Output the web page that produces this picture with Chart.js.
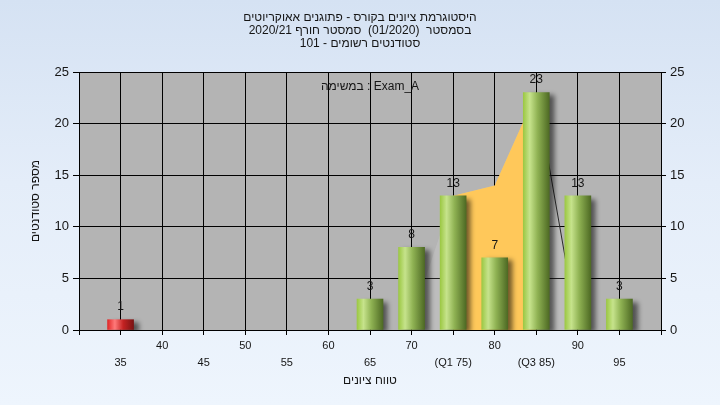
<!DOCTYPE html>
<html lang="he">
<head>
<meta charset="utf-8">
<script src="https://cdn.jsdelivr.net/npm/chart.js@4"></script>
<style>
  html, body { margin: 0; padding: 0; overflow: hidden; }
  body { width: 720px; height: 405px; background: linear-gradient(180deg, #d5e2f3 0%, #e4edf9 45%, #eef5fd 100%); }
  canvas { display: block; }
</style>
</head>
<body>
<canvas id="chart-hist" width="720" height="405"></canvas>
<script>
// ── data ──
const titleLines = [
  'היסטוגרמת ציונים בקורס - פתוגנים אאוקריוטים',
  'בסמסטר  (01/2020)  סמסטר חורף 2020/21',
  'סטודנטים רשומים - 101'
];
const taskLabel  = 'במשימה : Exam_A';
const xTitle     = 'טווח ציונים';
const yTitle     = 'מספר סטודנטים';

const classes    = [35, 40, 45, 50, 55, 60, 65, 70, 75, 80, 85, 90, 95];
const tickLabels = ['35', '40', '45', '50', '55', '60', '65', '70', '(Q1 75)', '80', '(Q3 85)', '90', '95'];
const students   = [1, 0, 0, 0, 0, 0, 3, 8, 13, 7, 23, 13, 3];
const passMark   = 55;

// distribution outline and the Q1..Q3 band drawn behind the bars
const curveX = [70, 75, 80, 85, 90];
const curveY = [1, 13, 14, 23, 0];
const iqrX   = [75, 80, 85];
const iqrY   = [13, 14, 23];

const FONT = "'Liberation Sans', Arial, sans-serif";
const INK  = '#151515';

function barFill(c) {
  if (!students[c.dataIndex]) return 'rgba(0,0,0,0)';
  const fail = classes[c.dataIndex] < passMark;
  const flat = fail ? '#d42a2a' : '#8cb43c';
  const xs = c.chart.scales.x;
  if (!xs) return flat;
  const px = xs.getPixelForValue(classes[c.dataIndex]);
  if (!isFinite(px)) return flat;
  const g = c.chart.ctx.createLinearGradient(px - 13, 0, px + 13, 0);
  if (fail) {
    g.addColorStop(0, '#e02828');
    g.addColorStop(0.28, '#ff7a7a');
    g.addColorStop(0.6, '#c42222');
    g.addColorStop(1, '#7a1414');
  } else {
    g.addColorStop(0, '#9cc844');
    g.addColorStop(0.25, '#c6e38c');
    g.addColorStop(0.55, '#8fb253');
    g.addColorStop(1, '#4e6a24');
  }
  return g;
}

const plotBg = {
  id: 'plotBg',
  beforeDraw(chart) {
    const { ctx, chartArea: a } = chart;
    ctx.save();
    ctx.fillStyle = '#b4b4b4';
    ctx.fillRect(a.left, a.top, a.right - a.left, a.bottom - a.top);
    ctx.restore();
  }
};

const barShadow = {
  id: 'barShadow',
  beforeDatasetDraw(chart, args) {
    if (args.index !== 0) return;
    const ctx = chart.ctx;
    ctx.save();
    ctx.shadowColor = 'rgba(0,0,0,0.55)';
    ctx.shadowBlur = 5;
    ctx.shadowOffsetX = 5;
    ctx.shadowOffsetY = 3;
  },
  afterDatasetDraw(chart, args) {
    if (args.index === 0) chart.ctx.restore();
  }
};

const valueLabels = {
  id: 'valueLabels',
  afterDatasetsDraw(chart) {
    const ctx = chart.ctx;
    const a = chart.chartArea;
    ctx.save();
    ctx.font = '12px ' + FONT;
    ctx.fillStyle = INK;
    ctx.textAlign = 'center';
    ctx.textBaseline = 'middle';
    chart.getDatasetMeta(0).data.forEach((bar, i) => {
      if (!students[i]) return;
      ctx.fillText(String(students[i]), bar.x, bar.y - 12.5);
    });
    ctx.fillText(taskLabel, (a.left + a.right) / 2, a.top + 15);
    ctx.restore();
  }
};

const tickFont = { family: FONT, size: 13 };

new Chart(document.getElementById('chart-hist').getContext('2d'), {
  type: 'bar',
  data: {
    datasets: [
      {
        label: 'students',
        data: classes.map((x, i) => ({ x, y: students[i] })),
        backgroundColor: barFill,
        borderWidth: 0,
        barThickness: 26,
        order: 0
      },
      {
        type: 'line',
        label: 'iqr',
        data: iqrX.map((x, i) => ({ x, y: iqrY[i] })),
        fill: 'origin',
        backgroundColor: '#ffc85a',
        borderWidth: 0,
        pointRadius: 0,
        tension: 0,
        order: 1
      },
      {
        type: 'line',
        label: 'curve',
        data: curveX.map((x, i) => ({ x, y: curveY[i] })),
        fill: 'origin',
        backgroundColor: 'rgba(255,255,255,0.13)',
        borderWidth: 1,
        segment: { borderColor: s => s.p0.parsed.x >= 85 ? '#2a2a2a' : 'rgba(0,0,0,0)' },
        pointRadius: 0,
        tension: 0,
        order: 2
      }
    ]
  },
  options: {
    responsive: false,
    devicePixelRatio: 1,
    animation: false,
    layout: { padding: 0 },
    plugins: {
      legend: { display: false },
      tooltip: { enabled: false },
      title: {
        display: true,
        text: titleLines,
        color: INK,
        font: { family: FONT, size: 12, weight: 'normal', lineHeight: 1.1 },
        padding: { top: 11, bottom: 21.4 }
      }
    },
    scales: {
      x: {
        type: 'linear',
        min: 30, max: 100,
        offset: false,
        grid: { color: '#000', lineWidth: 1, tickLength: 5, offset: false },
        border: { color: '#000' },
        ticks: {
          stepSize: 5,
          autoSkip: false,
          maxRotation: 0, minRotation: 0,
          padding: 2,
          color: INK,
          font: { family: FONT, size: 11, lineHeight: 17 / 11 },
          callback: v => {
            const i = classes.indexOf(v);
            if (i < 0) return '';
            return i % 2 === 0 ? ['', tickLabels[i]] : [tickLabels[i], ''];
          }
        },
        title: { display: true, text: xTitle, color: INK, font: { family: FONT, size: 12 }, padding: { top: 0, bottom: 17 } },
        afterFit: s => { s.height = 75; }
      },
      y: {
        position: 'left',
        min: 0, max: 25,
        grid: { color: '#000', lineWidth: 1, tickLength: 6 },
        border: { color: '#000' },
        ticks: { stepSize: 5, padding: 4, color: INK, font: tickFont },
        title: { display: true, text: yTitle, color: INK, font: { family: FONT, size: 12 }, padding: { top: 28, bottom: 0 } },
        afterFit: s => { s.width = 79; }
      },
      y2: {
        position: 'right',
        min: 0, max: 25,
        grid: { drawOnChartArea: false, color: '#000', tickLength: 5 },
        border: { color: '#000' },
        ticks: { stepSize: 5, padding: 4, color: INK, font: tickFont },
        afterFit: s => { s.width = 59; }
      }
    }
  },
  plugins: [plotBg, barShadow, valueLabels]
});
</script>
</body>
</html>
